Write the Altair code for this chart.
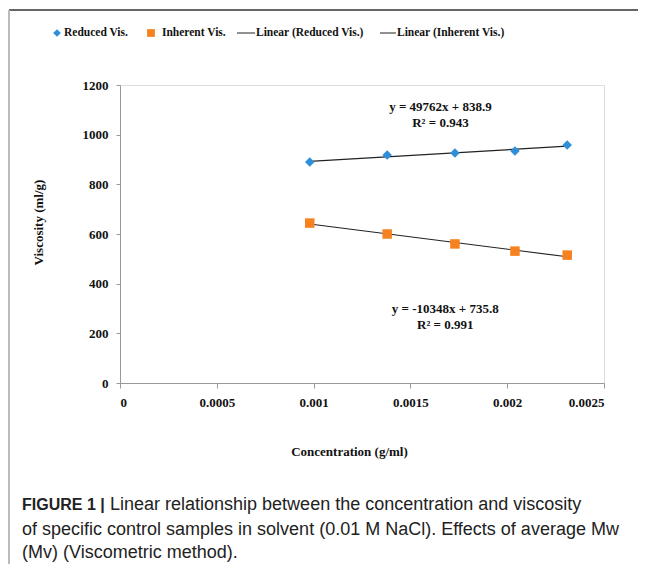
import altair as alt
import pandas as pd

# ---- data ----
concentration = [0.00098, 0.00138, 0.00173, 0.00204, 0.00231]
reduced_vis = [890, 918, 926, 934, 958]
inherent_vis = [644, 600, 560, 531, 515]

series_names = ["Reduced Vis.", "Inherent Vis."]
series_colors = ["#2f8fd8", "#f5821f"]
series_shapes = ["diamond", "square"]

x_ticks = [0, 0.0005, 0.001, 0.0015, 0.002, 0.0025]
y_ticks = [0, 200, 400, 600, 800, 1000, 1200]

eq_text = ["y = 49762x + 838.9", "R² = 0.943", "y = -10348x + 735.8", "R² = 0.991"]
eq_x = [0.001655, 0.001655, 0.00168, 0.00168]
eq_y = [1113, 1048, 297, 233]

caption_bold = "FIGURE 1 |"
caption_lines = [
    "Linear relationship between the concentration and viscosity",
    "of specific control samples in solvent (0.01 M NaCl). Effects of average Mw",
    "(Mv) (Viscometric method).",
]

SERIF = "Liberation Serif"
SANS = "Liberation Sans"

df = pd.DataFrame({
    "conc": concentration * 2,
    "value": reduced_vis + inherent_vis,
    "series": [series_names[0]] * 5 + [series_names[1]] * 5,
})
eq_df = pd.DataFrame({"x": eq_x, "y": eq_y, "t": eq_text})

W, H = 484, 298

label_expr = "datum.value == 0 ? '0' : format(datum.value, '.4~f')"

x_enc = alt.X("conc:Q",
              scale=alt.Scale(domain=[0, 0.0025], nice=False, zero=True),
              axis=alt.Axis(values=x_ticks, labelExpr=label_expr,
                            title="Concentration (g/ml)", grid=False,
                            domainColor="#999999", tickColor="#999999",
                            tickSize=5, labelPadding=8,
                            labelFont=SERIF, labelFontSize=13, labelFontWeight="bold",
                            labelColor="#111111",
                            titleFont=SERIF, titleFontSize=13, titleFontWeight="bold",
                            titleColor="#111111", titleX=229, titleY=62,
                            titleAnchor="middle"))
y_enc = alt.Y("value:Q",
              scale=alt.Scale(domain=[0, 1200], nice=False),
              axis=alt.Axis(values=y_ticks, format="d", grid=False, title="Viscosity (ml/g)",
                            domainColor="#999999", tickColor="#999999",
                            tickSize=4, labelPadding=8,
                            labelFont=SERIF, labelFontSize=13, labelFontWeight="bold",
                            labelColor="#111111",
                            titleFont=SERIF, titleFontSize=13, titleFontWeight="bold",
                            titleColor="#111111", titleX=-82, titleY=137,
                            titleAngle=270, titleBaseline="middle", titleAlign="center"))

color = alt.Color("series:N", scale=alt.Scale(domain=series_names, range=series_colors), legend=None)
shape = alt.Shape("series:N", scale=alt.Scale(domain=series_names, range=series_shapes), legend=None)

trend = alt.Chart(df).transform_regression(
    "conc", "value", groupby=["series"]
).mark_line(color="#222222", strokeWidth=1.2).encode(x=x_enc, y=y_enc, detail="series:N")

points = alt.Chart(df).mark_point(filled=True, size=90, opacity=1).encode(
    x=x_enc, y=y_enc, color=color, shape=shape)

eqs = alt.Chart(eq_df).mark_text(font=SERIF, fontSize=13, fontWeight="bold",
                                 color="#111111", align="center", baseline="middle").encode(
    x=alt.X("x:Q", scale=alt.Scale(domain=[0, 0.0025], nice=False)),
    y=alt.Y("y:Q", scale=alt.Scale(domain=[0, 1200], nice=False)),
    text="t:N")

one = pd.DataFrame({"a": [0]})

def txt(s, x, y, **kw):
    return alt.Chart(one).mark_text(**kw).encode(
        x=alt.value(x), y=alt.value(y), text=alt.value(s))

leg_y = -52
leg_kw = dict(font=SERIF, fontSize=11.5, fontWeight="bold", color="#111111",
              align="left", baseline="middle")
legend = [
    alt.Chart(one).mark_point(filled=True, shape="diamond", size=60, color=series_colors[0], opacity=1)
      .encode(x=alt.value(-63), y=alt.value(leg_y)),
    txt(series_names[0], -56, leg_y, **leg_kw),
    alt.Chart(one).mark_point(filled=True, shape="square", size=60, color=series_colors[1], opacity=1)
      .encode(x=alt.value(31), y=alt.value(leg_y)),
    txt(series_names[1], 42, leg_y, **leg_kw),
    alt.Chart(one).mark_rule(color="#222222", strokeWidth=1)
      .encode(x=alt.value(117), x2=alt.value(135), y=alt.value(leg_y)),
    txt("Linear (Reduced Vis.)", 136, leg_y, **leg_kw),
    alt.Chart(one).mark_rule(color="#222222", strokeWidth=1)
      .encode(x=alt.value(260), x2=alt.value(276), y=alt.value(leg_y)),
    txt("Linear (Inherent Vis.)", 277, leg_y, **leg_kw),
]

frame = [
    alt.Chart(one).mark_rule(color="#333333", strokeWidth=1.5)
      .encode(x=alt.value(-111), x2=alt.value(526), y=alt.value(-75)),
    alt.Chart(one).mark_rule(color="#bbbbbb", strokeWidth=2)
      .encode(x=alt.value(-111), y=alt.value(-75), y2=alt.value(487)),
]

cap_kw = dict(font=SANS, fontSize=18, color="#222222", align="left", baseline="middle")
caption = [
    txt(caption_bold, -98, 420, font=SANS, fontSize=16, fontWeight="bold",
        color="#222222", align="left", baseline="middle"),
    txt(caption_lines[0], -10, 420, **cap_kw),
    txt(caption_lines[1], -98, 445, **cap_kw),
    txt(caption_lines[2], -98, 468, **cap_kw),
]

chart = alt.layer(trend, points, eqs, *legend, *frame, *caption).properties(
    width=W, height=H,
    autosize=alt.AutoSizeParams(type="none"),
    padding={"left": 112, "top": 77, "right": 34, "bottom": 181},
).configure_view(stroke=None).configure(background="white")

chart.save("out.html", embed_options={"renderer": "svg", "actions": False})
